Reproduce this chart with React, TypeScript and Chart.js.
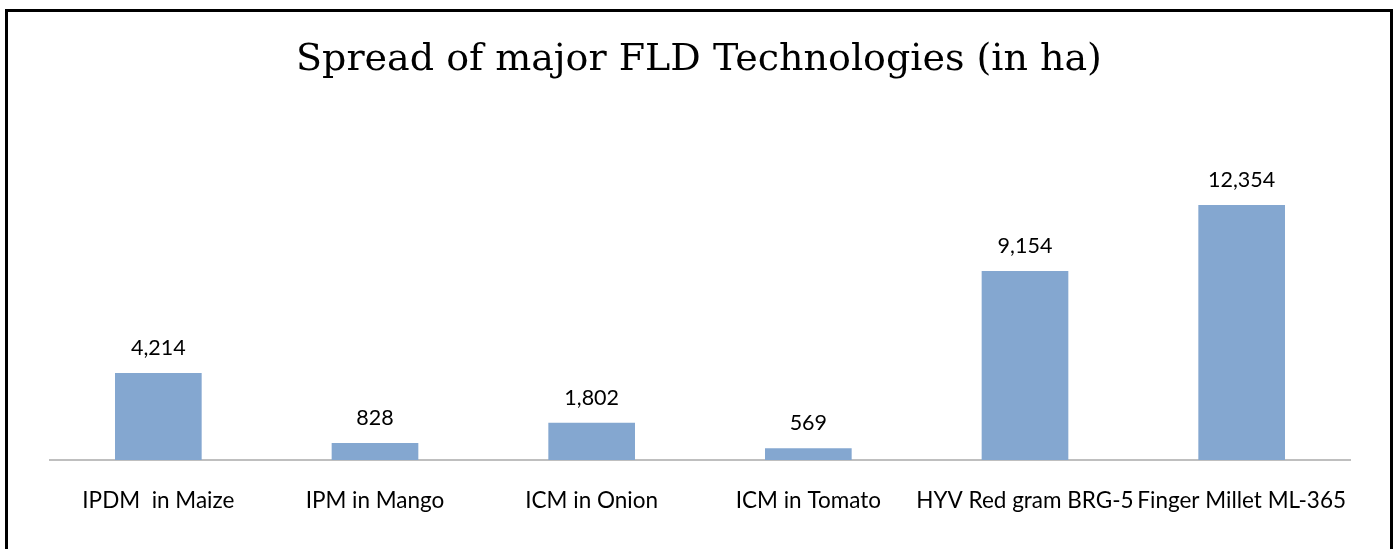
import React, { useEffect, useRef } from "react";
import { Chart, registerables } from "chart.js";

Chart.register(...registerables);

const TITLE = "Spread of major FLD Technologies (in ha)";
const categories = [
  "IPDM  in Maize",
  "IPM in Mango",
  "ICM in Onion",
  "ICM in Tomato",
  "HYV Red gram BRG-5",
  "Finger Millet ML-365",
];
const values = [4214, 828, 1802, 569, 9154, 12354];

const BAR_COLOR = "#84A7D0";
const LABEL_FONT = "Lato, 'Open Sans', sans-serif";

const labelPlugin = {
  id: "valueLabels",
  afterDatasetsDraw(chart: any) {
    const ctx = chart.ctx;
    const meta = chart.getDatasetMeta(0);
    ctx.save();
    ctx.font = `21.5px ${LABEL_FONT}`;
    ctx.fillStyle = "#000";
    ctx.textAlign = "center";
    ctx.textBaseline = "alphabetic";
    meta.data.forEach((bar: any, i: number) => {
      const v = chart.data.datasets[0].data[i] as number;
      ctx.fillText(v.toLocaleString("en-US"), bar.x, bar.y - 18);
    });
    ctx.restore();
  },
};

const titlePlugin = {
  id: "customTitle",
  afterDraw(chart: any) {
    const ctx = chart.ctx;
    ctx.save();
    ctx.font = "38px 'DejaVu Serif', serif";
    ctx.fillStyle = "#000";
    ctx.textAlign = "center";
    ctx.textBaseline = "alphabetic";
    ctx.fillText(TITLE, 699, 70);
    ctx.restore();
  },
};

export default function App() {
  const ref = useRef<HTMLCanvasElement | null>(null);
  useEffect(() => {
    if (!ref.current) return;
    const chart = new Chart(ref.current, {
      type: "bar",
      data: {
        labels: categories,
        datasets: [
          {
            data: values,
            backgroundColor: BAR_COLOR,
            categoryPercentage: 1,
            barPercentage: 0.4,
          },
        ],
      },
      options: {
        animation: false,
        responsive: false,
        maintainAspectRatio: false,
        layout: { padding: { left: 50, right: 48, top: 171, bottom: 8 } },
        plugins: {
          legend: { display: false },
          title: { display: false },
          tooltip: { enabled: false },
        },
        scales: {
          x: {
            grid: { display: false, drawTicks: false },
            border: { display: true, color: "#BFBFBF", width: 2 },
            ticks: {
              color: "#000",
              font: { family: LABEL_FONT, size: 22.5 },
              padding: 27,
              autoSkip: false,
              maxRotation: 0,
              minRotation: 0,
            },
          },
          y: {
            display: false,
            min: 0,
            max: 14000,
          },
        },
      },
      plugins: [labelPlugin, titlePlugin],
    });
    return () => chart.destroy();
  }, []);

  return (
    <div style={{ position: "fixed", left: 0, top: 0, width: 1398, height: 549, background: "#fff" }}>
      <canvas ref={ref} width={1398} height={549} style={{ position: "absolute", left: 0, top: 0 }} />
      <div
        style={{
          position: "absolute",
          left: 5,
          top: 9,
          width: 1382,
          height: 560,
          border: "3px solid #000",
          pointerEvents: "none",
        }}
      />
    </div>
  );
}
